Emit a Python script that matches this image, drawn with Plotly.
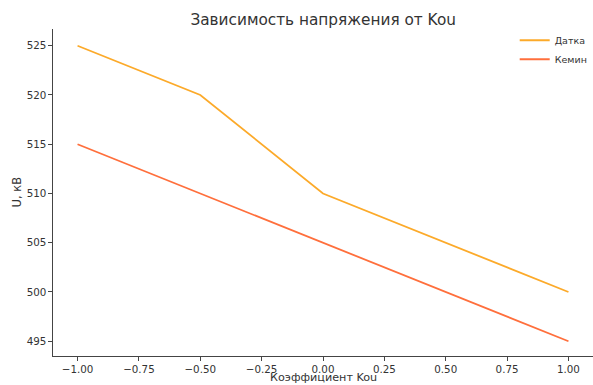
import plotly.graph_objects as go

kou = [-1.0, -0.5, 0.0, 0.5, 1.0]
datka = [525, 520, 510, 505, 500]
kemin = [515, 510, 505, 500, 495]
x_ticks = [-1.0, -0.75, -0.5, -0.25, 0.0, 0.25, 0.5, 0.75, 1.0]
x_tick_text = ["\u22121.00", "\u22120.75", "\u22120.50", "\u22120.25", "0.00", "0.25", "0.50", "0.75", "1.00"]
y_ticks = [495, 500, 505, 510, 515, 520, 525]

FONT = "DejaVu Sans"
TXT = "#333"

fig = go.Figure()
fig.add_trace(go.Scatter(x=kou, y=datka, mode="lines", name="Датка",
                         line=dict(color="#fcaa2a", width=1.8)))
fig.add_trace(go.Scatter(x=kou, y=kemin, mode="lines", name="Кемин",
                         line=dict(color="#ff6f3c", width=1.8)))

axis_common = dict(showgrid=False, zeroline=False, showline=True, linecolor="#444",
                   linewidth=1.2, ticks="outside", ticklen=3.5, tickcolor="#444",
                   automargin=False,
                   tickfont=dict(family=FONT, size=10.3, color=TXT))

fig.update_layout(
    width=593, height=385,
    margin=dict(l=53, r=0, t=29, b=29),
    paper_bgcolor="white", plot_bgcolor="white",
    title=dict(text="Зависимость напряжения от Kou", x=0.545, xanchor="center",
               y=0.948, yanchor="middle",
               font=dict(family=FONT, size=15.3, color=TXT)),
    xaxis=dict(range=[-1.1, 1.1], tickvals=x_ticks, ticktext=x_tick_text, **axis_common),
    yaxis=dict(range=[493.5, 526.7], tickvals=y_ticks, **axis_common),
    legend=dict(x=0.855, y=1.01, xanchor="left", yanchor="top",
                font=dict(family=FONT, size=9.5, color=TXT),
                bgcolor="rgba(255,255,255,0.8)", itemwidth=30, tracegroupgap=0),
    showlegend=True,
    annotations=[
        dict(text="Коэффициент Kou", xref="paper", yref="paper", x=0.5, y=-0.0665,
             xanchor="center", yanchor="middle", showarrow=False, borderpad=0,
             font=dict(family=FONT, size=11.2, color=TXT)),
        dict(text="U, кВ", xref="paper", yref="paper", x=-0.0685, y=0.5,
             xanchor="center", yanchor="middle", textangle=-90, showarrow=False,
             font=dict(family=FONT, size=11.5, color=TXT)),
    ],
)

fig.write_html("out.html", config={"displayModeBar": False},
               post_script="document.body.style.margin='0';document.body.style.overflow='hidden';")
